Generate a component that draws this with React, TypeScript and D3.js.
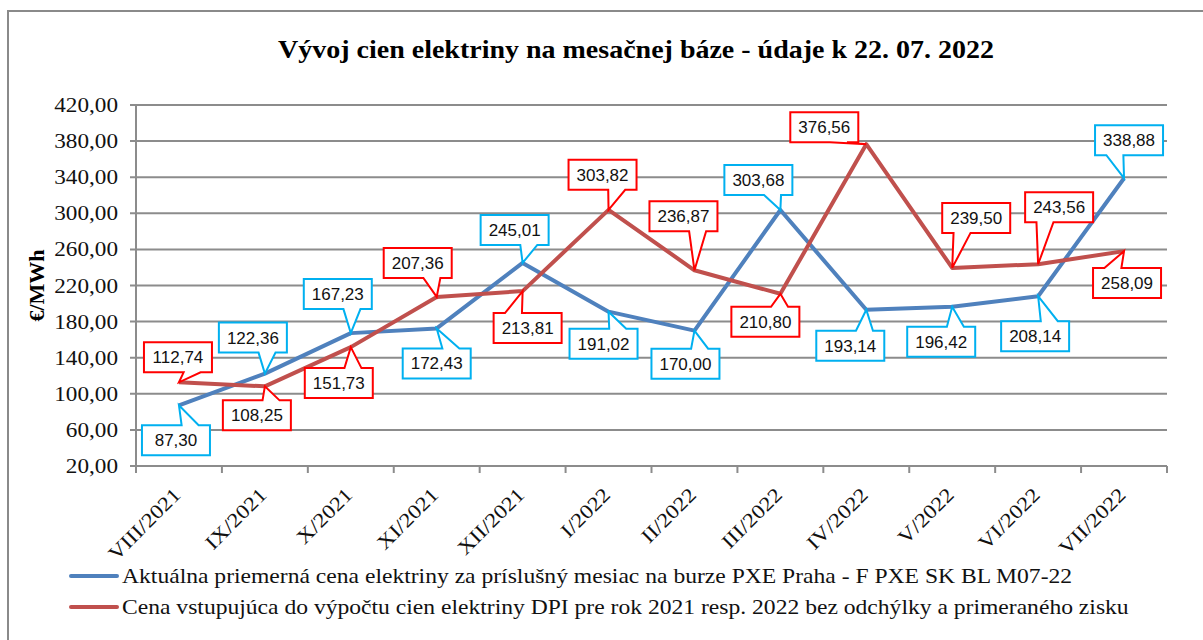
import * as d3 from "d3";

const categories = [
  "VIII/2021", "IX/2021", "X/2021", "XI/2021", "XII/2021", "I/2022",
  "II/2022", "III/2022", "IV/2022", "V/2022", "VI/2022", "VII/2022",
];

// PXE monthly average (blue)
const pxePrices = [87.3, 122.36, 167.23, 172.43, 245.01, 191.02, 170.0, 303.68, 193.14, 196.42, 208.14, 338.88];
// DPI input price (red)
const dpiPrices = [112.74, 108.25, 151.73, 207.36, 213.81, 303.82, 236.87, 210.8, 376.56, 239.5, 243.56, 258.09];

const yTicks = [20, 60, 100, 140, 180, 220, 260, 300, 340, 380, 420];

const seriesNames = [
  "Aktuálna priemerná cena elektriny za príslušný mesiac na burze PXE Praha - F PXE SK BL M07-22",
  "Cena vstupujúca do výpočtu cien elektriny DPI pre rok 2021 resp. 2022 bez odchýlky a primeraného zisku",
];

const title = "Vývoj cien elektriny na mesačnej báze - údaje k 22. 07. 2022";
const yTitle = "€/MWh";

// callout placement relative to the point (layout only)
const pxeLabelShift: [number, number][] = [
  [-3, 35], [-12, -36], [-13, -39], [0, 35], [-8, -33], [-5, 32],
  [-9, 33], [-22, -30], [-16, 36], [-11, 35], [-3, 40], [5, -38],
];
const dpiLabelShift: [number, number][] = [
  [-1, -25], [-8, 29], [-12, 36], [-19, -34], [5, 37], [-6, -35],
  [-11, -54], [-15, 28], [-42, -17], [24, -50], [21, -57], [3, 32],
];

const W = 1203;
const H = 640;
const plot = { left: 136, right: 1167, top: 105, bottom: 466 };

const BLUE = "#4F81BD";
const RED = "#C0504D";
const BLUE_BOX = "#00B0F0";
const RED_BOX = "#FF0000";
const GRID = "#8C8C8C";
const SERIF = "'Liberation Serif', 'Times New Roman', serif";
const STRETCH = 1.16; // the source text is wider than Liberation Serif

const fmt = (v: number) => d3.format(".2f")(v).replace(".", ",");

function Callout({ tx, ty, cx, cy, text, color }: {
  tx: number; ty: number; cx: number; cy: number; text: string; color: string;
}) {
  const w = 68;
  const h = 30;
  const x0 = cx - w / 2;
  const x1 = cx + w / 2;
  const y0 = cy - h / 2;
  const y1 = cy + h / 2;
  const right = tx >= cx;
  const a = x0 + w * (right ? 7 / 12 : 2 / 12);
  const b = x0 + w * (right ? 10 / 12 : 5 / 12);
  const d = ty < cy
    ? `M${x0},${y0}L${a},${y0}L${tx},${ty}L${b},${y0}L${x1},${y0}L${x1},${y1}L${x0},${y1}Z`
    : `M${x0},${y0}L${x1},${y0}L${x1},${y1}L${b},${y1}L${tx},${ty}L${a},${y1}L${x0},${y1}Z`;
  return (
    <g>
      <path d={d} fill="#fff" stroke={color} strokeWidth={2} strokeLinejoin="miter" />
      <text x={cx} y={cy + 6} textAnchor="middle" fontSize={17}
        fontFamily="'Liberation Sans', Arial, sans-serif" fill="#111">
        {text}
      </text>
    </g>
  );
}

export default function App() {
  const x = d3.scaleBand().domain(categories).range([plot.left, plot.right]);
  const y = d3.scaleLinear().domain([20, 420]).range([plot.bottom, plot.top]);
  const cx = (c: string) => (x(c) ?? 0) + x.bandwidth() / 2;

  const line = d3.line<number>()
    .x((_, i) => cx(categories[i]))
    .y((v) => y(v));

  const series = [
    { values: pxePrices, color: BLUE, box: BLUE_BOX, shift: pxeLabelShift },
    { values: dpiPrices, color: RED, box: RED_BOX, shift: dpiLabelShift },
  ];

  const boundaries = categories.map((c) => x(c) ?? 0).concat([plot.right]);

  return (
    <svg width={W} height={H} style={{ position: "absolute", left: 0, top: 0, background: "#fff" }}>
      <rect x={8} y={11} width={W} height={H} fill="#fff" stroke="#8A8A8A" strokeWidth={2} />

      <text transform={`translate(636,58) scale(1.12,1)`} textAnchor="middle" fontSize={25}
        fontWeight="bold" fontFamily={SERIF}>
        {title}
      </text>

      {/* grid + y axis */}
      {yTicks.map((t) => (
        <g key={t}>
          <line x1={plot.left - 6} x2={plot.right} y1={y(t)} y2={y(t)} stroke={GRID} strokeWidth={2} />
          <text transform={`translate(118,${y(t) + 7}) scale(${STRETCH},1)`} textAnchor="end"
            fontSize={20} fontFamily={SERIF} fill="#111">
            {fmt(t)}
          </text>
        </g>
      ))}
      <line x1={plot.left} x2={plot.left} y1={plot.top} y2={plot.bottom} stroke={GRID} strokeWidth={2} />
      <text transform={`translate(44,${(plot.top + plot.bottom) / 2}) rotate(-90) scale(1.05,1)`}
        textAnchor="middle" fontSize={21} fontWeight="bold" fontFamily={SERIF}>
        {yTitle}
      </text>

      {/* x axis */}
      {boundaries.map((bx, i) => (
        <line key={i} x1={bx} x2={bx} y1={plot.bottom} y2={plot.bottom + 7} stroke={GRID} strokeWidth={2} />
      ))}
      {categories.map((c) => (
        <text key={c} transform={`translate(${cx(c) + 3},${plot.bottom + 30}) rotate(-45) scale(${STRETCH},1)`}
          textAnchor="end" fontSize={20} fontFamily={SERIF} fill="#111">
          {c}
        </text>
      ))}

      {/* series */}
      {series.map((s, k) => (
        <path key={k} d={line(s.values) ?? ""} fill="none" stroke={s.color} strokeWidth={4}
          strokeLinejoin="round" />
      ))}
      {series.map((s, k) => (
        <g key={k}>
          {s.values.map((v, i) => {
            const px = cx(categories[i]);
            const py = y(v);
            return (
              <Callout key={i} tx={px} ty={py} cx={px + s.shift[i][0]} cy={py + s.shift[i][1]}
                text={fmt(v)} color={s.box} />
            );
          })}
        </g>
      ))}

      {/* legend */}
      {series.map((s, k) => (
        <g key={k}>
          <line x1={71} x2={117} y1={576 + k * 31} y2={576 + k * 31} stroke={s.color} strokeWidth={4}
            strokeLinecap="round" />
          <text transform={`translate(122,${583 + k * 31}) scale(1.18,1)`} fontSize={20}
            fontFamily={SERIF} fill="#111">
            {seriesNames[k]}
          </text>
        </g>
      ))}
    </svg>
  );
}
